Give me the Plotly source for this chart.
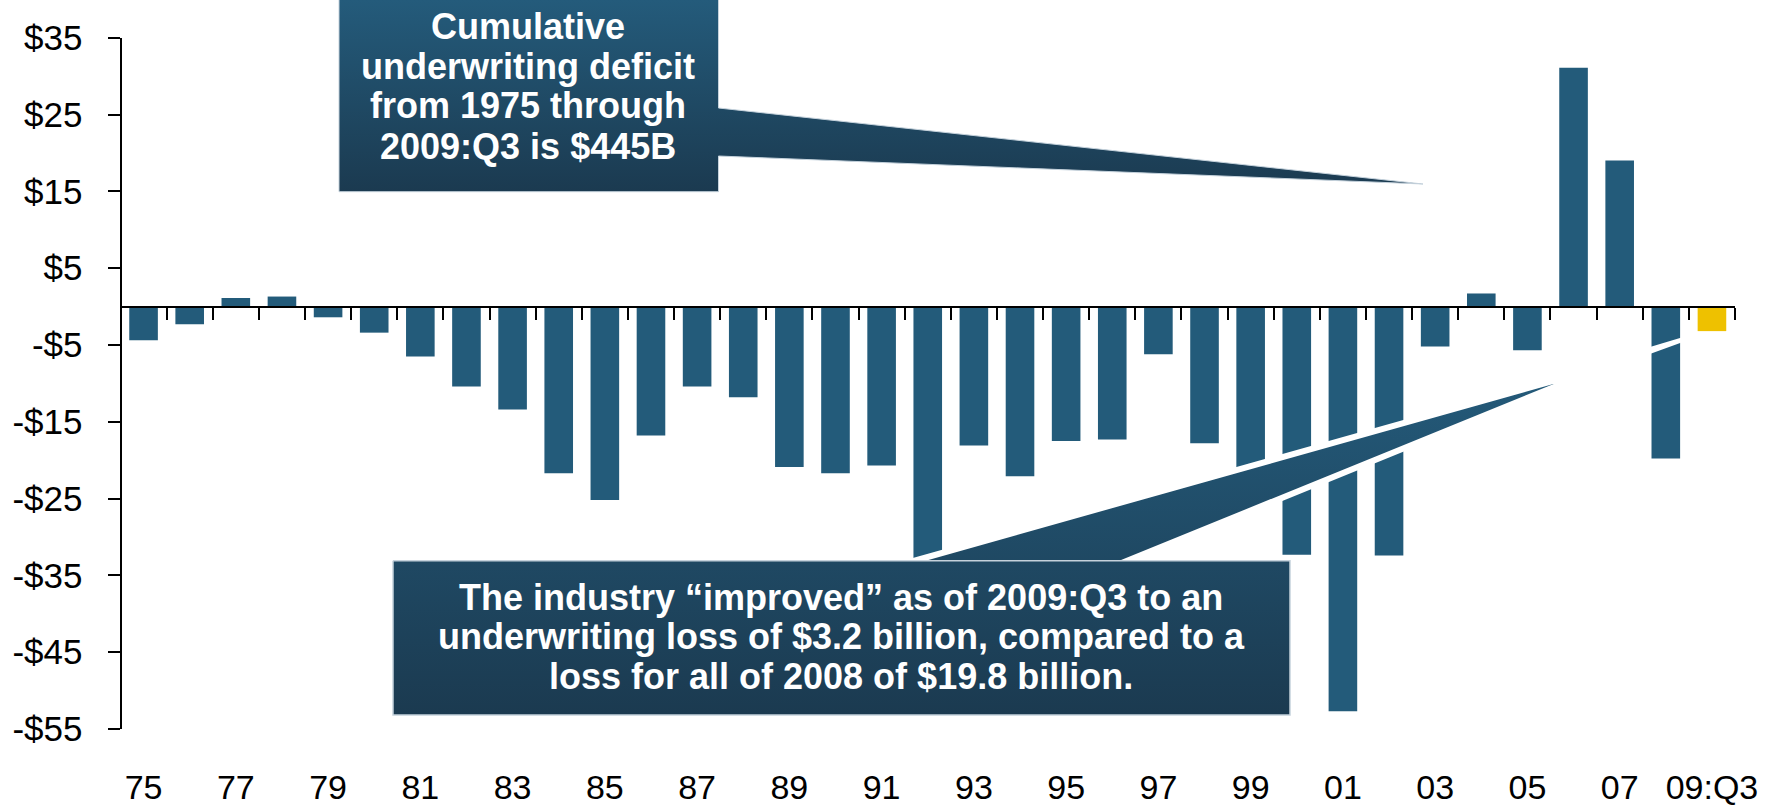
import plotly.graph_objects as go

W, H = 1784, 809

# ---- data ----
years = ['75', '76', '77', '78', '79', '80', '81', '82', '83', '84', '85', '86',
         '87', '88', '89', '90', '91', '92', '93', '94', '95', '96', '97', '98',
         '99', '00', '01', '02', '03', '04', '05', '06', '07', '08', '09:Q3']
underwriting_result = [-4.4, -2.3, 1.1, 1.3, -1.4, -3.4, -6.5, -10.4, -13.4, -21.7,
                       -25.2, -16.8, -10.4, -11.8, -20.9, -21.7, -20.7, -36.0, -18.1,
                       -22.1, -17.5, -17.3, -6.2, -17.8, -23.0, -32.3, -52.7, -32.4,
                       -5.2, 1.7, -5.7, 31.1, 19.0, -19.8, -3.2]
x_tick_labels = ['75', '', '77', '', '79', '', '81', '', '83', '', '85', '', '87', '',
                 '89', '', '91', '', '93', '', '95', '', '97', '', '99', '', '01', '',
                 '03', '', '05', '', '07', '', '09:Q3']
y_ticks = [35, 25, 15, 5, -5, -15, -25, -35, -45, -55]
y_tick_labels = ['$35', '$25', '$15', '$5', '-$5', '-$15', '-$25', '-$35', '-$45', '-$55']

callout_top_lines = ['Cumulative', 'underwriting deficit', 'from 1975 through', '2009:Q3 is $445B']
callout_bottom_lines = ['The industry \u201cimproved\u201d as of 2009:Q3 to an',
                        'underwriting loss of $3.2 billion, compared to a',
                        'loss for all of 2008 of $19.8 billion.']

BLUE = '#235b7a'
GOLD = '#eec100'
bar_colors = [BLUE] * (len(years) - 1) + [GOLD]

FONT = 'Liberation Sans, Arial, sans-serif'

# ---- plot area (pixels) ----
PL, PR, PT, PB = 120.5, 1735.0, 37.7, 729.0
Y_MIN, Y_MAX = -55, 35
zero_px = PT + (Y_MAX - 0) / (Y_MAX - Y_MIN) * (PB - PT)
zero_frac = 1 - zero_px / H

fig = go.Figure()
fig.add_trace(go.Bar(x=years, y=underwriting_result, marker=dict(color=bar_colors, line=dict(width=0)),
                     hoverinfo='x+y', showlegend=False))


def poly(xs, ys, **kw):
    return go.Scatter(x=list(xs) + [xs[0]], y=list(ys) + [ys[0]], mode='lines', fill='toself',
                      xaxis='x2', yaxis='y2', hoverinfo='skip', showlegend=False, **kw)


DARK_TOP = '#245b7b'
DARK_BOT = '#1b3a50'

# callout 2 pointer (white outline crossing bars)
fig.add_trace(poly([881.5, 1606, 1104.4], [570, 366, 570],
                   line=dict(color='white', width=6),
                   fillgradient=dict(type='vertical', colorscale=[[0, DARK_TOP], [1, DARK_BOT]],
                                     start=366, stop=715)))
# callout 2 box
fig.add_trace(poly([393, 1290, 1290, 393], [560.7, 560.7, 715, 715],
                   line=dict(color='#c5d2dc', width=1.5),
                   fillgradient=dict(type='vertical', colorscale=[[0, DARK_TOP], [1, DARK_BOT]],
                                     start=366, stop=715)))
# white slash across the 2008 bar
fig.add_trace(poly([1630, 1700, 1700, 1630], [353, 332, 335.7, 361.3],
                   line=dict(width=0), fillcolor='white'))
# callout 1 (box + pointer)
fig.add_trace(poly([339, 718.5, 718.5, 1423, 718.5, 718.5, 339],
                   [-3, -3, 108, 184, 156, 191.7, 191.7],
                   line=dict(color='#c5d2dc', width=1),
                   fillgradient=dict(type='vertical', colorscale=[[0, DARK_TOP], [1, DARK_BOT]],
                                     start=0, stop=191.7)))

top_line_y = [26, 66, 106, 146]
for line, yc in zip(callout_top_lines, top_line_y):
    fig.add_annotation(xref='paper', yref='paper', x=528 / W, y=1 - yc / H, showarrow=False,
                       xanchor='center', yanchor='middle', text='<b>' + line + '</b>',
                       font=dict(family=FONT, size=36, color='white'))
bottom_line_y = [597, 636, 676]
for line, yc in zip(callout_bottom_lines, bottom_line_y):
    fig.add_annotation(xref='paper', yref='paper', x=841 / W, y=1 - yc / H, showarrow=False,
                       xanchor='center', yanchor='middle', text='<b>' + line + '</b>',
                       font=dict(family=FONT, size=36, color='white'))

fig.update_layout(
    width=W, height=H,
    margin=dict(l=0, r=0, t=0, b=0, autoexpand=False),
    paper_bgcolor='white', plot_bgcolor='rgba(0,0,0,0)',
    bargap=0.38,
    showlegend=False,
    xaxis=dict(domain=[PL / W, PR / W], type='category', anchor='free', position=zero_frac,
               range=[-0.5, len(years) - 0.5], tickmode='array', tickvals=years, ticktext=x_tick_labels,
               tickson='boundaries', ticks='outside', ticklen=12, tickwidth=2, tickcolor='black',
               showline=True, linecolor='black', linewidth=2, showgrid=False, zeroline=False,
               tickangle=0, automargin=False,
               tickfont=dict(family=FONT, size=34, color='black'), ticklabelstandoff=451),
    yaxis=dict(domain=[1 - PB / H, 1 - PT / H], range=[Y_MIN, Y_MAX], anchor='free', position=PL / W,
               tickmode='array', tickvals=y_ticks, ticktext=y_tick_labels,
               ticks='outside', ticklen=12, tickwidth=2, tickcolor='black',
               showline=True, linecolor='black', linewidth=2, showgrid=False, zeroline=False,
               automargin=False,
               tickfont=dict(family=FONT, size=35, color='black'), ticklabelstandoff=18),
    xaxis2=dict(domain=[0, 1], range=[0, W], visible=False, anchor='y2', fixedrange=True, automargin=False),
    yaxis2=dict(domain=[0, 1], range=[H, 0], visible=False, anchor='x2', fixedrange=True, automargin=False),
)

fig.write_html('out.html', config={'displayModeBar': False},
               post_script="document.body.style.margin='0px';document.body.style.padding='0px';")
